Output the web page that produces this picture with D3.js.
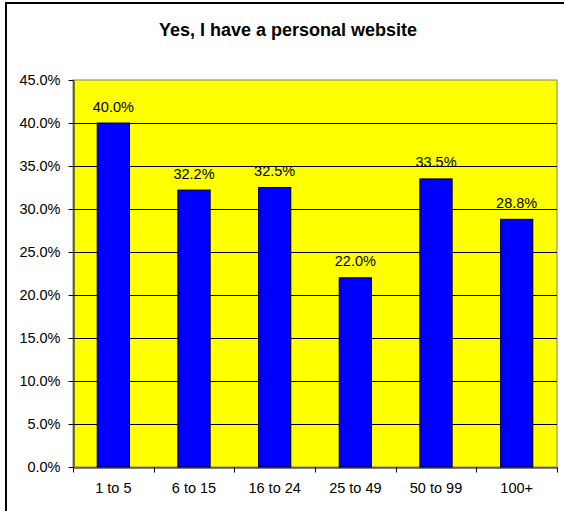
<!DOCTYPE html>
<html>
<head>
<meta charset="utf-8">
<script src="https://cdn.jsdelivr.net/npm/d3@7/dist/d3.min.js"></script>
<style>
  html, body { margin: 0; padding: 0; background: #fff; }
  svg { display: block; font-family: "Liberation Sans", Arial, sans-serif; }
</style>
</head>
<body>
<svg id="chart" width="564" height="511"></svg>
<script>
// Share of respondents with a personal website, by group size
const categories = ["1 to 5", "6 to 15", "16 to 24", "25 to 49", "50 to 99", "100+"];
const values = [40.0, 32.2, 32.5, 22.0, 33.5, 28.8];
const yTicks = [0, 5, 10, 15, 20, 25, 30, 35, 40, 45];
const title = "Yes, I have a personal website";

const svg = d3.select("#chart");
const plot = { left: 73, top: 80, right: 557, bottom: 467 };
const labelFont = 14.5;

// outer chart frame
svg.append("rect")
  .attr("x", 6).attr("y", 3)
  .attr("width", 580).attr("height", 540)
  .attr("fill", "#fff").attr("stroke", "#000").attr("stroke-width", 2);

svg.append("text")
  .attr("x", 288).attr("y", 36)
  .attr("text-anchor", "middle")
  .attr("font-size", 18).attr("font-weight", "bold")
  .text(title);

const x = d3.scaleBand().domain(categories)
  .range([plot.left, plot.right]).paddingInner(0.6).paddingOuter(0.3);
const xBand = d3.scaleBand().domain(categories).range([plot.left, plot.right]);
const y = d3.scaleLinear().domain([0, 45]).range([plot.bottom, plot.top]);

// plot area
svg.append("rect")
  .attr("x", plot.left).attr("y", plot.top)
  .attr("width", plot.right - plot.left).attr("height", plot.bottom - plot.top)
  .attr("fill", "#ffff00").attr("stroke", "#808080").attr("stroke-width", 1);

// gridlines
svg.append("g").selectAll("line").data(yTicks.filter(t => t > 0 && t < 45)).join("line")
  .attr("x1", plot.left).attr("x2", plot.right)
  .attr("y1", d => Math.round(y(d)) + 0.5).attr("y2", d => Math.round(y(d)) + 0.5)
  .attr("stroke", "#000").attr("stroke-width", 1);

// bars
svg.append("g").selectAll("rect").data(values).join("rect")
  .attr("x", (d, i) => x(categories[i]))
  .attr("y", d => y(d))
  .attr("width", x.bandwidth())
  .attr("height", d => y(0) - y(d))
  .attr("fill", "#0000ff").attr("stroke", "#000").attr("stroke-width", 1);

// value labels
svg.append("g").selectAll("text").data(values).join("text")
  .attr("x", (d, i) => x(categories[i]) + x.bandwidth() / 2)
  .attr("y", d => y(d) - 11.5)
  .attr("text-anchor", "middle")
  .attr("font-size", labelFont)
  .text(d => d.toFixed(1) + "%");

// y axis
const yAxis = svg.append("g")
  .attr("transform", `translate(${plot.left + 0.5},0)`)
  .call(d3.axisLeft(y).tickValues(yTicks).tickSize(5).tickSizeOuter(0)
    .tickFormat(d => d.toFixed(1) + "%"));
yAxis.select(".domain").attr("stroke", "#000");
yAxis.selectAll("text").attr("font-size", labelFont).attr("font-family", "Liberation Sans, Arial, sans-serif")
  .attr("fill", "#000").attr("x", -13);

// x axis
const xAxis = svg.append("g")
  .attr("transform", `translate(0,${plot.bottom + 0.5})`)
  .call(d3.axisBottom(xBand).tickSize(0).tickSizeOuter(0));
xAxis.select(".domain").attr("stroke", "#000");
xAxis.selectAll("text").attr("font-size", labelFont).attr("font-family", "Liberation Sans, Arial, sans-serif")
  .attr("fill", "#000").attr("dy", 0).attr("y", 25.5);
// category boundary ticks
xAxis.append("g").selectAll("line").data(d3.range(categories.length + 1)).join("line")
  .attr("x1", i => Math.round(plot.left + i * xBand.step()) + 0.5)
  .attr("x2", i => Math.round(plot.left + i * xBand.step()) + 0.5)
  .attr("y1", 0).attr("y2", 5)
  .attr("stroke", "#000");
</script>
</body>
</html>
